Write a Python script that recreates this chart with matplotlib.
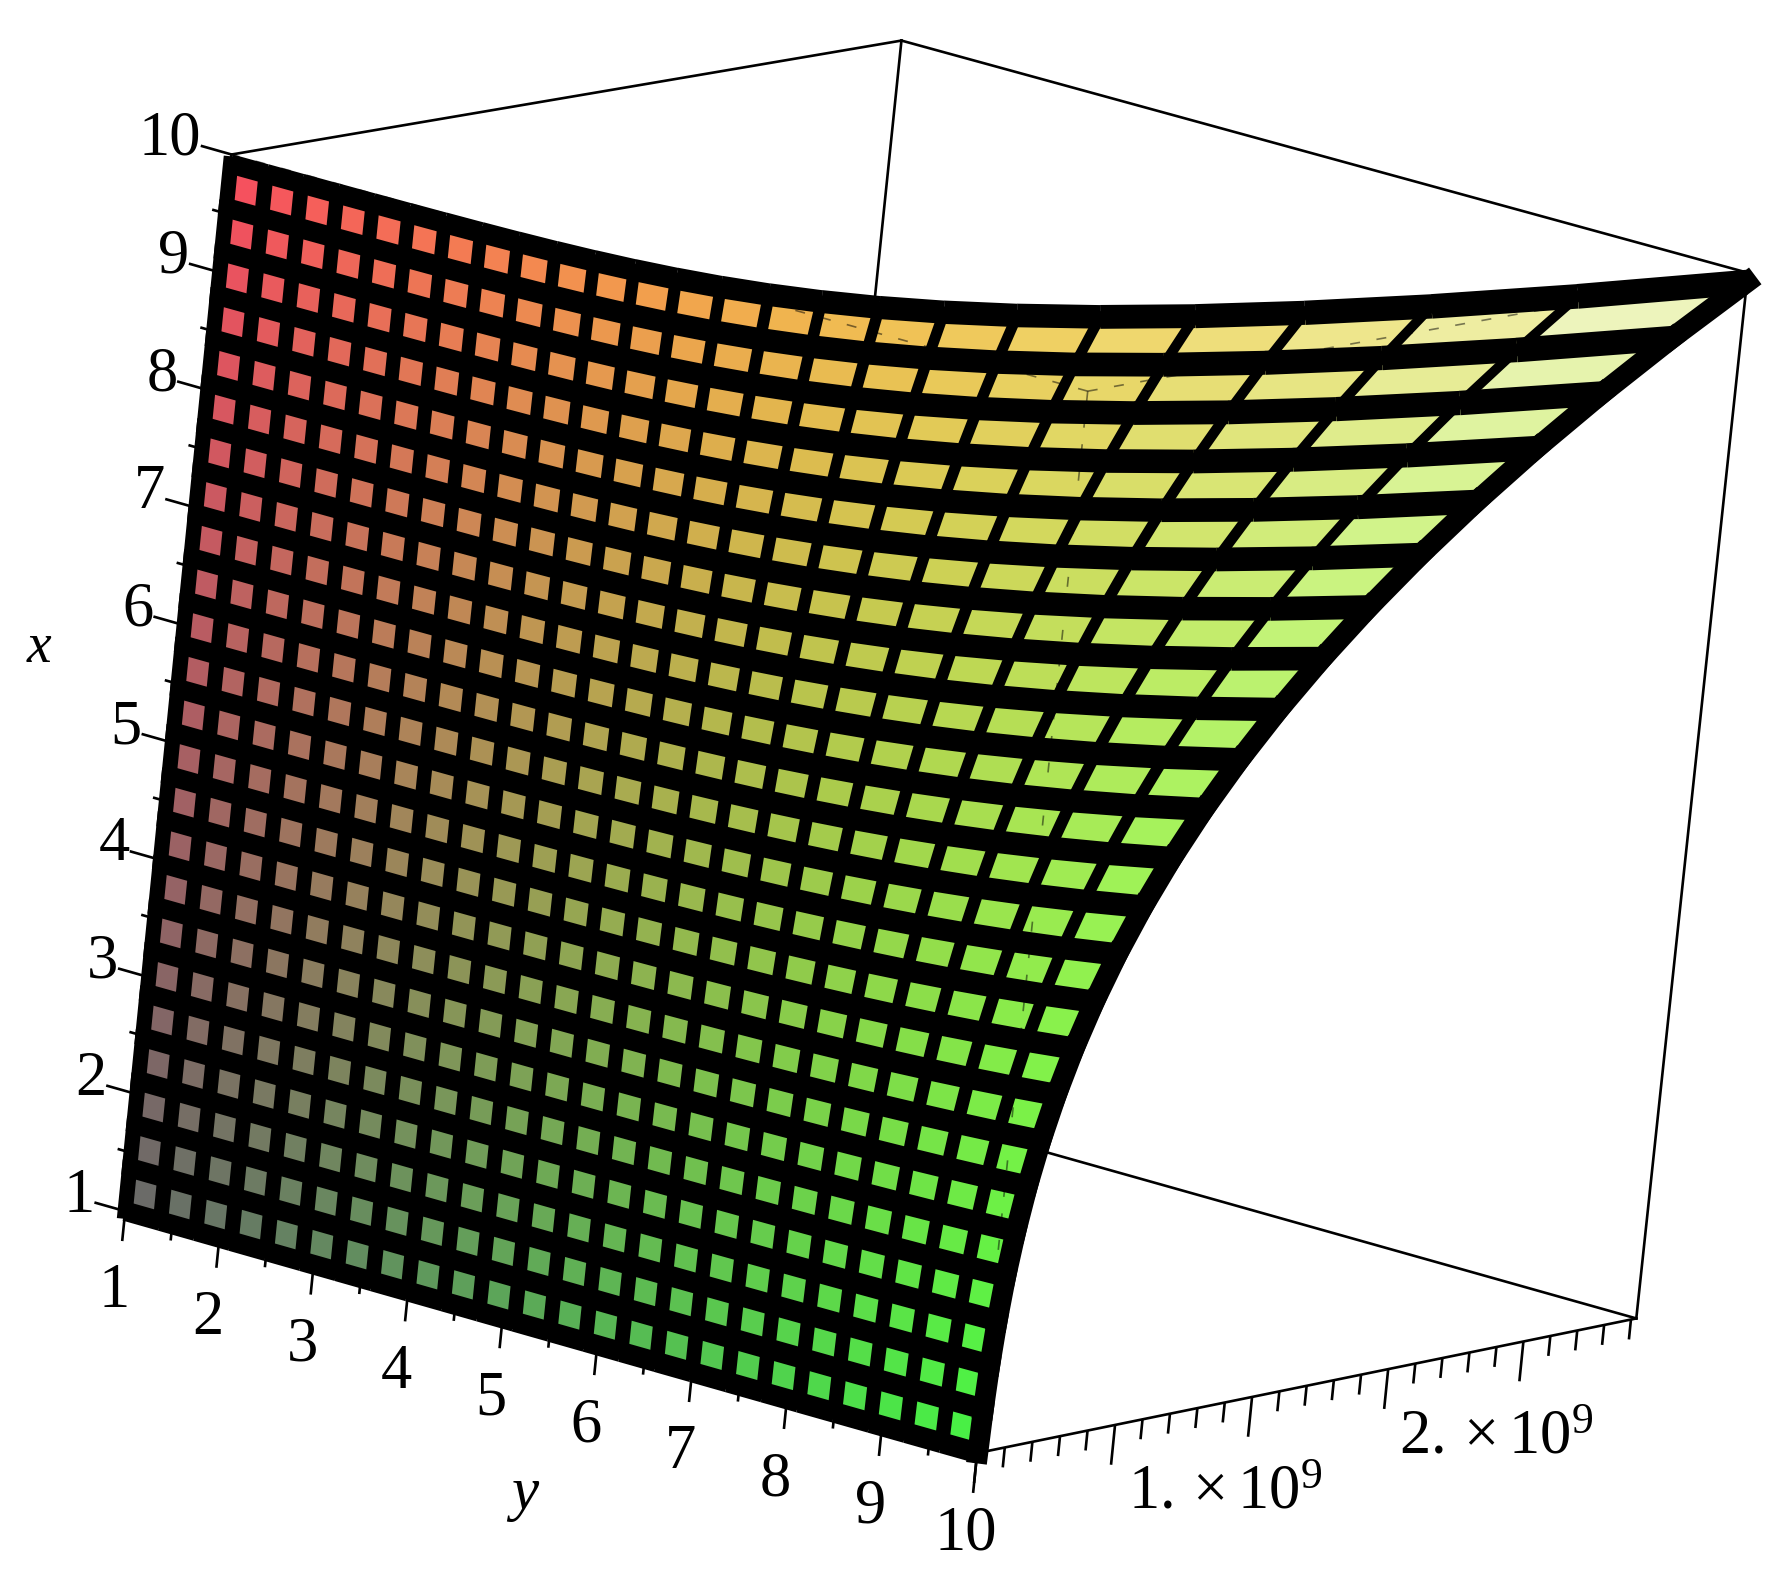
import numpy as np
import matplotlib
matplotlib.use("Agg")
import matplotlib.pyplot as plt
from matplotlib.lines import Line2D
from mpl_toolkits.mplot3d.art3d import Line3DCollection

plt.rcParams['font.family'] = ['Liberation Serif', 'DejaVu Serif']
plt.rcParams['mathtext.fontset'] = 'stix'

# ---- data ----
x_values = np.linspace(1, 9.92, 25)
y_values = np.linspace(1, 10, 25)
z_top = 2.42e9                # top of the box
# relative height along the x = 10 and y = 10 edges of the sheet
profile_x = [.001, .0026, .00536, .0096, .0156, .0238, .0343, .0476, .064, .0837, .1072, .1346, .1664,
             .2028, .2441, .2908, .343, .4011, .4655, .5364, .6141, .699, .7915, .8917, 1.0]
profile_y = [.000001, .0000067, .0000287, .000092, .000244, .00057, .00118, .00227, .0041, .0070, .0115,
             .0181, .0277, .0411, .0596, .0846, .1176, .1609, .2167, .2877, .3771, .4886, .6264, .7951, 1.0]
x_ticks = list(range(1, 11))
y_ticks = list(range(1, 11))
z_minor = [i * 1e8 for i in range(0, 25)]
z_major = [0, 5e8, 1e9, 1.5e9, 2e9]
z_labels = {1e9: r"$\mathregular{1.\times 10^{9}}$", 2e9: r"$\mathregular{2.\times 10^{9}}$"}

# corner colours of the sheet before the height term: (x,y) = (1,1), (10,1), (1,10), (10,10)
col_a = np.array([.41, .41, .41])
col_b = np.array([.98, .30, .37])
col_c = np.array([.27, .95, .27])
col_d = np.array([.95, .97, .20])
blue_gain = .62
# mesh line widths at the same four corners
width_along_x = [11, 11, 10.5, 6.5]
width_along_y = [14, 14, 15, 18]
width_far_edge = 15

# ---- figure / camera ----
W, H = 1768, 1582
S = 1768 / 1568
fig = plt.figure(figsize=(W / 100, H / 100), dpi=100, facecolor='white')
ax = fig.add_axes([0, 0, 1, 1], projection='3d', computed_zorder=False)
ax.apply_aspect = lambda position=None: None
ax.set_proj_type('ortho')
ax.set_axis_off()

# camera calibration: box corners -> picture position
corners3d = [(1, 1, 0), (10, 1, 0), (1, 10, 0), (1, 10, 1), (10, 10, 1), (10, 1, 1), (1, 1, 1)]
corners2d = [(108, 1070), (205, 140), (870, 1290), (1448, 1170), (1550, 240), (800, 35), (707, 961)]
rows, rhs = [], []
for (a, b, c), (u, v) in zip(corners3d, corners2d):
    u, v = u * S, v * S
    rows.append([a, b, c, 1, 0, 0, 0, 0, -u * a, -u * b, -u * c]); rhs.append(u)
    rows.append([0, 0, 0, 0, a, b, c, 1, -v * a, -v * b, -v * c]); rhs.append(v)
sol = np.linalg.lstsq(np.array(rows, float), np.array(rhs, float), rcond=None)[0]
P = np.append(sol, 1.0).reshape(3, 4)
P[:, 2] /= z_top


def get_proj():
    Pd = np.vstack([P[0], H * P[2] - P[1], P[2]])
    Pt = ax.transData.inverted().get_matrix() @ Pd
    return np.vstack([Pt[0], Pt[1], [0, 0, 1 / z_top, 0], Pt[2]])


ax.get_proj = get_proj


def pix(a, b, c):
    v = P @ np.array([a, b, c, 1.0])
    return np.array([v[0] / v[2], v[1] / v[2]])


def seg(p, q, lw=1.9):
    fig.add_artist(Line2D([p[0] / W, q[0] / W], [1 - p[1] / H, 1 - q[1] / H],
                          transform=fig.transFigure, color='black', lw=lw, solid_capstyle='butt'))


def label(px, py, s, **kw):
    kw.setdefault('ha', 'center')
    fig.text(px / W, 1 - py / H, s, va='center', color='black', **kw)


def blend(u, v, corners):
    return (1 - u) * (1 - v) * corners[0] + u * (1 - v) * corners[1] \
        + (1 - u) * v * corners[2] + u * v * corners[3]


# ---- surface ----
X, Y = np.meshgrid(x_values, y_values)
Z = z_top * np.outer(profile_y, profile_x)
xc = (X[:-1, :-1] + X[1:, 1:]) / 2
yc = (Y[:-1, :-1] + Y[1:, 1:]) / 2
zc = (Z[:-1, :-1] + Z[1:, 1:]) / 2
u = (xc - 1) / 9
v = (yc - 1) / 9
w = zc / z_top
rgb = np.dstack([blend(u, v, [col_a[i], col_b[i], col_c[i], col_d[i]]) for i in range(3)])
rgb[..., 2] += blue_gain * w
rgb = np.clip(rgb, 0, 1)
face = np.dstack([rgb, np.ones(u.shape)])

# box edges behind the sheet
box = [((10, 1, 0), (10, 1, 1)), ((10, 1, 1), (10, 10, 1)), ((10, 1, 1), (1, 1, 1)),
       ((10, 10, 1), (1, 10, 1)), ((1, 10, 1), (1, 10, 0)), ((1, 10, 1), (1, 1, 1)),
       ((1, 1, 0), (1, 10, 0)), ((1, 1, 0), (10, 1, 0))]
for p, q in box:
    ax.plot([p[0], q[0]], [p[1], q[1]], [p[2] * z_top, q[2] * z_top], color='black', lw=1.9, zorder=1)

ax.plot_surface(X, Y, Z, rstride=1, cstride=1, facecolors=face, shade=False,
                edgecolor='none', linewidth=0, antialiased=False, zorder=2)

# mesh lines, one piece per cell side
n_y, n_x = X.shape
segs_x, lw_x, segs_y, lw_y = [], [], [], []
for j in range(n_y):
    for i in range(n_x):
        p0 = (X[j, i], Y[j, i], Z[j, i])
        uu, vv = i / (n_x - 1), j / (n_y - 1)
        if i < n_x - 1:
            segs_x.append([p0, (X[j, i + 1], Y[j, i + 1], Z[j, i + 1])])
            lw_x.append(width_far_edge if j == n_y - 1 else blend(uu, vv, width_along_x))
        if j < n_y - 1:
            segs_y.append([p0, (X[j + 1, i], Y[j + 1, i], Z[j + 1, i])])
            lw_y.append(blend(uu, vv, width_along_y))
ax.add_collection3d(Line3DCollection(segs_x, colors='black', linewidths=lw_x, capstyle='projecting', zorder=3))
ax.add_collection3d(Line3DCollection(segs_y, colors='black', linewidths=lw_y, capstyle='butt', zorder=4))

# box edges that show through the sheet
for p, q in [((10, 10, 0), (1, 10, 0)), ((10, 10, 0), (10, 1, 0)), ((10, 10, 0), (10, 10, 1))]:
    ax.plot([p[0], q[0]], [p[1], q[1]], [p[2] * z_top, q[2] * z_top], color='black', lw=1.2,
            alpha=.5, linestyle=(0, (6, 10)), zorder=5)

# ---- ticks and labels ----
A = pix(1, 1, 0)
B = pix(10, 1, 0)
C = pix(1, 10, 0)
dx = (A - B) / np.linalg.norm(A - B)     # y and z ticks point this way
dy = (A - C) / np.linalg.norm(A - C)     # x ticks point this way

for t in np.arange(1, 10.01, .5):
    major = float(t).is_integer()
    p = pix(1, t, 0)
    seg(p, p + dx * (30 if major else 16))
    q = pix(t, 1, 0)
    seg(q, q + dy * (32 if major else 14))

for t in z_minor:
    p = pix(1, 10, t)
    seg(p, p + dx * (40 if t in z_major else 20))

for t in x_ticks:
    p = pix(t, 1, 0)
    label(p[0] - 27 * S, p[1] - 13 * S, str(t), ha='right', fontsize=45)
for t in y_ticks:
    p = pix(1, t, 0)
    label(p[0] - 10 * S, p[1] + 72 * S, str(t), fontsize=45)
for t, s in z_labels.items():
    p = pix(1, 10, t)
    label(p[0] - 24 * S, p[1] + 86 * S, s, fontsize=45)

label(35 * S, 575 * S, 'x', fontsize=40, style='italic')
label(465 * S, 1325 * S, 'y', fontsize=44, style='italic')

fig.savefig('out.png', dpi=100, facecolor='white')
